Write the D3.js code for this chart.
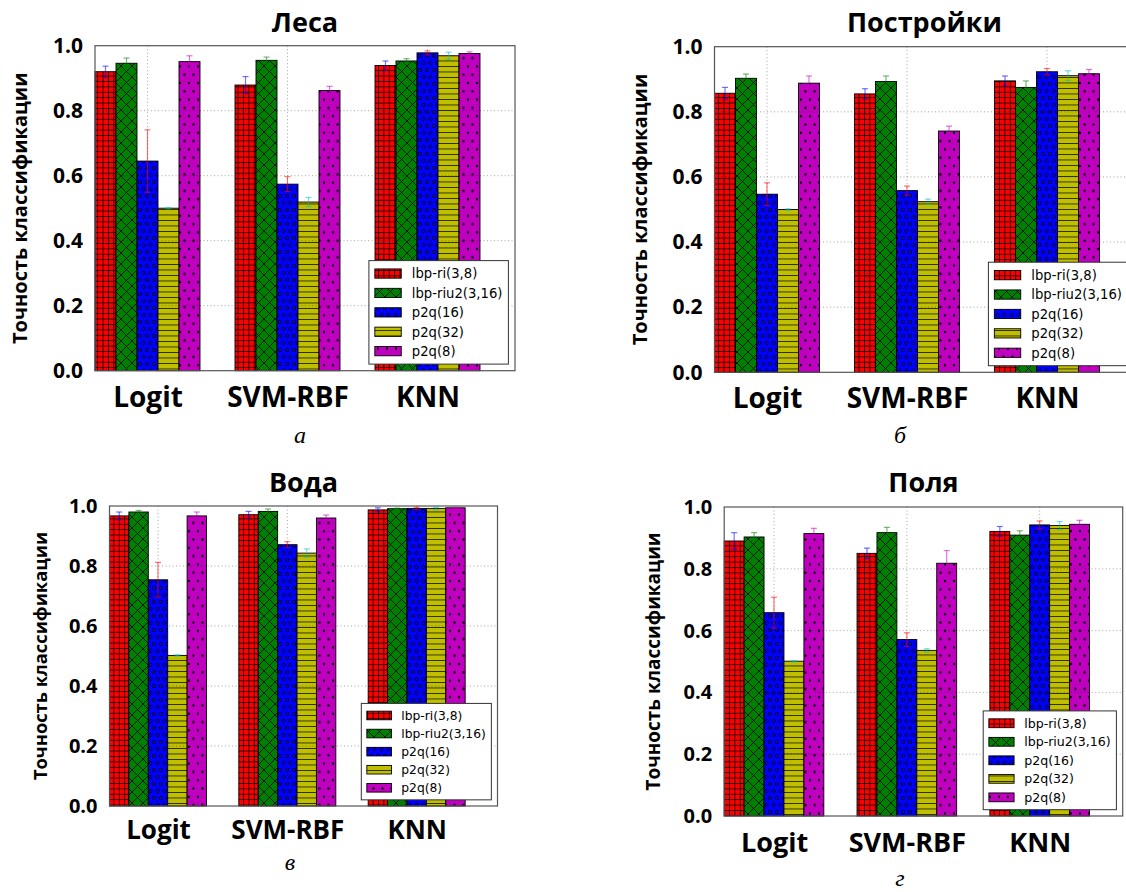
<!DOCTYPE html>
<html><head><meta charset="utf-8">
<script src="https://cdn.jsdelivr.net/npm/d3@7/dist/d3.min.js"></script>
<style>body{margin:0;background:#fff} svg{display:block}</style>
</head><body>
<svg id="c" width="1126" height="892"></svg>
<script>
// ---------- data ----------
const methods = ["Logit", "SVM-RBF", "KNN"];
const seriesNames = ["lbp-ri(3,8)", "lbp-riu2(3,16)", "p2q(16)", "p2q(32)", "p2q(8)"];
const yTicks = [0.0, 0.2, 0.4, 0.6, 0.8, 1.0];
const panelTitles = ["Леса", "Постройки", "Вода", "Поля"];
const panelLetters = ["а", "б", "в", "г"];
const yLabel = "Точность классификации";

// mean accuracy per series (Logit, SVM-RBF, KNN)
const lesaMean = [[0.920, 0.879, 0.939], [0.946, 0.955, 0.953], [0.645, 0.574, 0.978], [0.500, 0.519, 0.969], [0.951, 0.862, 0.976]];
const lesaErr  = [[0.017, 0.026, 0.014], [0.016, 0.010, 0.007], [0.096, 0.023, 0.006], [0.002, 0.014, 0.011], [0.018, 0.013, 0.005]];
const postMean = [[0.857, 0.855, 0.895], [0.903, 0.893, 0.875], [0.547, 0.558, 0.923], [0.500, 0.524, 0.911], [0.888, 0.741, 0.917]];
const postErr  = [[0.018, 0.016, 0.015], [0.013, 0.017, 0.020], [0.035, 0.014, 0.010], [0.002, 0.008, 0.015], [0.022, 0.015, 0.013]];
const vodaMean = [[0.967, 0.971, 0.987], [0.980, 0.982, 0.991], [0.754, 0.871, 0.992], [0.502, 0.843, 0.992], [0.967, 0.960, 0.994]];
const vodaErr  = [[0.013, 0.011, 0.007], [0.005, 0.008, 0.002], [0.058, 0.010, 0.004], [0.002, 0.014, 0.004], [0.013, 0.010, 0.002]];
const polyaMean = [[0.890, 0.850, 0.921], [0.903, 0.917, 0.909], [0.658, 0.571, 0.942], [0.501, 0.536, 0.940], [0.914, 0.818, 0.944]];
const polyaErr  = [[0.027, 0.017, 0.016], [0.014, 0.017, 0.014], [0.050, 0.022, 0.013], [0.002, 0.005, 0.013], [0.017, 0.041, 0.013]];

// ---------- styles ----------
const barColors = ["#ff0000", "#008000", "#0000ff", "#bfbf00", "#bf00bf"];
const errColors = ["#0000ff", "#008000", "#ff0000", "#00bfbf", "#bf00bf"];
const hatchIds = ["hPlus", "hX", "hO", "hDash", "hDot"];

const panels = [
  {mean: lesaMean, err: lesaErr, left: 95, top: 45.7, w: 420, h: 325, titleY: 32, tick: 21, ylab: 20, ylabX: -68, xlab: 28, xpad: 16, leg: 13.2, sub: [300, 443]},
  {mean: postMean, err: postErr, left: 714.5, top: 46.7, w: 420, h: 325.6, titleY: 32, tick: 21, ylab: 20, ylabX: -68, xlab: 28, xpad: 16, leg: 13.2, sub: [900, 443]},
  {mean: vodaMean, err: vodaErr, left: 109.5, top: 506, w: 388, h: 300, titleY: 492, tick: 20, ylab: 18.3, ylabX: -63, xlab: 26, xpad: 15, leg: 12.3, sub: [290, 870]},
  {mean: polyaMean, err: polyaErr, left: 724.2, top: 507, w: 398.5, h: 309, titleY: 492, tick: 20, ylab: 19, ylabX: -64, xlab: 27, xpad: 16.5, leg: 12.6, sub: [900, 886]}
];

const svg = d3.select("#c");
const defs = svg.append("defs");
function pattern(id, w, h, draw) {
  const p = defs.append("pattern").attr("id", id).attr("patternUnits", "userSpaceOnUse")
    .attr("width", w).attr("height", h);
  draw(p);
}
const HS = "#000", HW = 0.8;
pattern("hPlus", 5.4, 5.4, p => p.append("path").attr("d", "M0,0.4H5.4M0.4,0V5.4").attr("stroke", HS).attr("stroke-width", HW));
pattern("hX", 11, 11, p => p.append("path").attr("d", "M0,0L11,11M11,0L0,11").attr("stroke", HS).attr("stroke-width", HW));
pattern("hDash", 10, 5.5, p => p.append("path").attr("d", "M0,0.4H10").attr("stroke", HS).attr("stroke-width", HW));
pattern("hO", 7, 14, p => {
  [[0, 0], [7, 0], [0, 14], [7, 14], [3.5, 7]].forEach(c =>
    p.append("circle").attr("cx", c[0]).attr("cy", c[1]).attr("r", 1.7).attr("fill", "none").attr("stroke", HS).attr("stroke-width", HW));
});
pattern("hDot", 9, 16.6, p => {
  [[0, 0], [9, 0], [0, 16.6], [9, 16.6], [4.5, 8.3]].forEach(c =>
    p.append("circle").attr("cx", c[0]).attr("cy", c[1]).attr("r", 1.15).attr("fill", HS));
});

const FONT = "'Open Sans', 'DejaVu Sans', sans-serif";
const LFONT = "'DejaVu Sans', sans-serif";

panels.forEach((P, pi) => {
  const g = svg.append("g");
  const x = d3.scaleLinear().domain([0, 3]).range([P.left, P.left + P.w]);
  const y = d3.scaleLinear().domain([0, 1]).range([P.top + P.h, P.top]);
  const bw = 0.15;

  // bars
  seriesNames.forEach((s, si) => {
    const sg = g.append("g");
    methods.forEach((m, mi) => {
      const v = P.mean[si][mi];
      const x0 = x(mi + si * bw), x1 = x(mi + (si + 1) * bw);
      sg.append("rect").attr("x", x0).attr("y", y(v)).attr("width", x1 - x0).attr("height", y(0) - y(v))
        .attr("fill", barColors[si]);
      sg.append("rect").attr("x", x0).attr("y", y(v)).attr("width", x1 - x0).attr("height", y(0) - y(v))
        .attr("fill", `url(#${hatchIds[si]})`);
      sg.append("rect").attr("x", x0).attr("y", y(v)).attr("width", x1 - x0).attr("height", y(0) - y(v))
        .attr("fill", "none").attr("stroke", "#000").attr("stroke-width", 0.9);
    });
  });

  // grid
  const grid = g.append("g").attr("stroke", "#000").attr("stroke-opacity", 0.45).attr("stroke-width", 0.8).attr("stroke-dasharray", "1,2.5");
  yTicks.slice(1, -1).forEach(t => grid.append("line").attr("x1", P.left).attr("x2", P.left + P.w).attr("y1", y(t)).attr("y2", y(t)));
  methods.forEach((m, mi) => grid.append("line").attr("x1", x(mi + 0.375)).attr("x2", x(mi + 0.375)).attr("y1", P.top).attr("y2", P.top + P.h));

  // error bars
  seriesNames.forEach((s, si) => {
    const eg = g.append("g").attr("stroke", errColors[si]).attr("stroke-opacity", 0.55).attr("stroke-width", 1.2);
    methods.forEach((m, mi) => {
      const v = P.mean[si][mi], e = P.err[si][mi];
      const cx = x(mi + (si + 0.5) * bw);
      eg.append("line").attr("x1", cx).attr("x2", cx).attr("y1", y(v - e)).attr("y2", y(v + e));
      eg.append("line").attr("x1", cx - 3).attr("x2", cx + 3).attr("y1", y(v - e)).attr("y2", y(v - e));
      eg.append("line").attr("x1", cx - 3).attr("x2", cx + 3).attr("y1", y(v + e)).attr("y2", y(v + e));
    });
  });

  // frame
  g.append("rect").attr("x", P.left).attr("y", P.top).attr("width", P.w).attr("height", P.h)
    .attr("fill", "none").attr("stroke", "#555").attr("stroke-width", 1.2);

  // axes
  const ya = g.append("g").attr("transform", `translate(${P.left},0)`)
    .call(d3.axisLeft(y).tickValues(yTicks).tickFormat(d3.format(".1f")).tickSize(0).tickPadding(12));
  ya.select(".domain").remove();
  ya.selectAll("text").attr("font-family", FONT).attr("font-weight", "bold").attr("font-size", P.tick).attr("fill", "#000");

  const xa = g.append("g").attr("transform", `translate(0,${P.top + P.h})`)
    .call(d3.axisBottom(x).tickValues([0.375, 1.375, 2.375]).tickFormat((d, i) => methods[i]).tickSize(0).tickPadding(P.xpad));
  xa.select(".domain").remove();
  xa.selectAll("text").attr("font-family", FONT).attr("font-weight", "bold").attr("font-size", P.xlab).attr("fill", "#000");

  // y label
  g.append("text").attr("transform", `translate(${P.left + P.ylabX},${P.top + P.h / 2}) rotate(-90)`)
    .attr("text-anchor", "middle").attr("font-family", FONT).attr("font-weight", "bold").attr("font-size", P.ylab)
    .text(yLabel);

  // title
  g.append("text").attr("x", P.left + P.w / 2).attr("y", P.titleY).attr("text-anchor", "middle")
    .attr("font-family", FONT).attr("font-weight", "bold").attr("font-size", 27).text(panelTitles[pi]);

  // sub letter
  g.append("text").attr("x", P.sub[0]).attr("y", P.sub[1]).attr("text-anchor", "middle")
    .attr("font-family", "'Liberation Serif', serif").attr("font-style", "italic").attr("font-size", 24).text(panelLetters[pi]);

  // legend
  const f = P.leg;
  const lg = g.append("g");
  const box = lg.append("rect").attr("fill", "#fff").attr("stroke", "#333").attr("stroke-width", 1);
  const rowH = 1.47 * f;
  const texts = [];
  seriesNames.forEach((s, si) => {
    const t = lg.append("text").attr("font-family", LFONT).attr("font-size", f).attr("dy", "0.36em").text(s);
    texts.push(t);
  });
  const tw = d3.max(texts, t => t.node().getComputedTextLength());
  const boxW = 0.45 * f + 2 * f + 0.8 * f + tw + 0.45 * f;
  const boxH = 2 * 0.98 * f + 4 * rowH;
  const bx = P.left + P.w - 0.5 * f - boxW, by = P.top + P.h - 0.5 * f - boxH;
  box.attr("x", bx).attr("y", by).attr("width", boxW).attr("height", boxH);
  seriesNames.forEach((s, si) => {
    const cy = by + 0.98 * f + si * rowH;
    const px = bx + 0.45 * f, ph = 0.7 * f, pw = 2 * f;
    lg.append("rect").attr("x", px).attr("y", cy - ph / 2).attr("width", pw).attr("height", ph).attr("fill", barColors[si]);
    lg.append("rect").attr("x", px).attr("y", cy - ph / 2).attr("width", pw).attr("height", ph).attr("fill", `url(#${hatchIds[si]})`);
    lg.append("rect").attr("x", px).attr("y", cy - ph / 2).attr("width", pw).attr("height", ph).attr("fill", "none").attr("stroke", "#000").attr("stroke-width", 0.9);
    texts[si].attr("x", px + pw + 0.8 * f).attr("y", cy);
  });
});
</script>
</body></html>
